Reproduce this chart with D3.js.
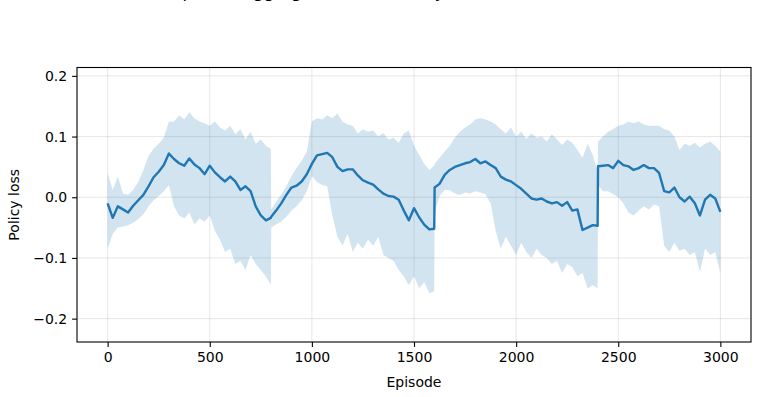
<!DOCTYPE html>
<html>
<head>
<meta charset="utf-8">
<script src="https://cdn.jsdelivr.net/npm/d3@7"></script>
<style>
  body { margin: 0; background: #fff; }
  svg text { font-family: "DejaVu Sans", sans-serif; fill: #000; }
</style>
</head>
<body>
<div class="chart-area"></div>
<script>
// episode index for each sample (extra points at the reset jumps)
const episodes = [
  0, 25, 50, 75, 100, 125, 150, 175, 200, 225, 250, 275, 300, 325, 350, 375,
  400, 425, 450, 475, 500, 525, 550, 575, 600, 625, 650, 675, 700, 725, 750, 775,
  799, 801,
  825, 850, 875, 900, 925, 950, 975, 1000, 1025, 1050, 1075, 1100, 1125, 1150, 1175, 1200,
  1225, 1250, 1275, 1300, 1325, 1350, 1375, 1400, 1425, 1450, 1475, 1500, 1525, 1550, 1575,
  1599, 1601,
  1625, 1650, 1675, 1700, 1725, 1750, 1775, 1800, 1825, 1850, 1875, 1900, 1925, 1950, 1975, 2000,
  2025, 2050, 2075, 2100, 2125, 2150, 2175, 2200, 2225, 2250, 2275, 2300, 2325, 2350, 2375,
  2399, 2401,
  2425, 2450, 2475, 2500, 2525, 2550, 2575, 2600, 2625, 2650, 2675, 2700, 2725, 2750, 2775, 2800,
  2825, 2850, 2875, 2900, 2925, 2950, 2975, 3000
];

const meanLoss = [
  -0.010, -0.034, -0.015, -0.020, -0.025, -0.014, -0.005, 0.004, 0.018, 0.033, 0.042, 0.053, 0.072, 0.063, 0.056, 0.052,
  0.064, 0.054, 0.048, 0.038, 0.052, 0.041, 0.033, 0.026, 0.034, 0.026, 0.012, 0.018, 0.010, -0.015, -0.030, -0.038,
  -0.034, -0.032,
  -0.022, -0.010, 0.004, 0.016, 0.019, 0.026, 0.038, 0.055, 0.069, 0.071, 0.073, 0.066, 0.050, 0.043, 0.046, 0.046,
  0.036, 0.028, 0.024, 0.021, 0.013, 0.006, 0.002, 0.001, -0.004, -0.022, -0.038, -0.018, -0.033, -0.045, -0.053,
  -0.052, 0.016,
  0.022, 0.037, 0.045, 0.050, 0.053, 0.056, 0.058, 0.063, 0.056, 0.059, 0.053, 0.048, 0.034, 0.029, 0.026, 0.020,
  0.014, 0.006, -0.002, -0.004, -0.002, -0.007, -0.010, -0.008, -0.014, -0.008, -0.022, -0.020, -0.054, -0.050, -0.046,
  -0.047, 0.051,
  0.052, 0.053, 0.048, 0.060, 0.053, 0.051, 0.045, 0.048, 0.053, 0.048, 0.048, 0.040, 0.010, 0.008, 0.016, 0.000,
  -0.007, 0.001, -0.010, -0.030, -0.004, 0.004, -0.002, -0.024
];

const upperLoss = [
  0.040, 0.012, 0.034, 0.006, 0.004, 0.012, 0.025, 0.045, 0.068, 0.080, 0.088, 0.098, 0.125, 0.125, 0.135, 0.128,
  0.140, 0.130, 0.125, 0.122, 0.118, 0.125, 0.115, 0.110, 0.118, 0.104, 0.112, 0.095, 0.108, 0.088, 0.095, 0.085,
  0.080, -0.020,
  -0.008, 0.005, 0.018, 0.035, 0.048, 0.060, 0.075, 0.125, 0.130, 0.128, 0.135, 0.130, 0.138, 0.125, 0.120, 0.118,
  0.105, 0.112, 0.108, 0.110, 0.100, 0.106, 0.095, 0.098, 0.090, 0.105, 0.110, 0.085, 0.070, 0.055, 0.045,
  0.052, 0.055,
  0.065, 0.075, 0.085, 0.098, 0.108, 0.115, 0.120, 0.128, 0.130, 0.128, 0.125, 0.120, 0.112, 0.105, 0.115, 0.100,
  0.108, 0.096, 0.105, 0.098, 0.100, 0.092, 0.104, 0.095, 0.086, 0.095, 0.090, 0.078, 0.065, 0.088, 0.070,
  0.042, 0.092,
  0.100, 0.108, 0.112, 0.118, 0.120, 0.125, 0.122, 0.125, 0.120, 0.118, 0.118, 0.118, 0.112, 0.110, 0.100, 0.078,
  0.088, 0.085, 0.090, 0.082, 0.088, 0.092, 0.085, 0.075
];

const lowerLoss = [
  -0.085, -0.060, -0.050, -0.048, -0.046, -0.042, -0.036, -0.028, -0.015, -0.005, 0.002, 0.010, 0.020, -0.015, -0.030, -0.035,
  -0.025, -0.045, -0.035, -0.040, -0.030, -0.055, -0.070, -0.090, -0.085, -0.110, -0.105, -0.120, -0.095, -0.110, -0.120, -0.130,
  -0.145, -0.050,
  -0.045, -0.040, -0.032, -0.022, -0.015, -0.005, 0.010, 0.035, 0.025, 0.020, 0.018, -0.030, -0.065, -0.080, -0.060, -0.090,
  -0.075, -0.085, -0.070, -0.080, -0.065, -0.095, -0.100, -0.105, -0.120, -0.130, -0.145, -0.130, -0.150, -0.140, -0.158,
  -0.155, -0.025,
  0.002, 0.012, 0.012, 0.006, 0.004, 0.008, 0.006, 0.010, 0.008, 0.005, -0.010, -0.055, -0.085, -0.065, -0.080, -0.095,
  -0.075, -0.090, -0.100, -0.085, -0.095, -0.100, -0.110, -0.105, -0.125, -0.110, -0.115, -0.130, -0.125, -0.150, -0.145,
  -0.150, 0.020,
  0.010, 0.010, 0.005, 0.000, -0.010, -0.025, -0.030, -0.022, -0.015, -0.020, -0.012, -0.015, -0.080, -0.090, -0.075, -0.088,
  -0.085, -0.095, -0.090, -0.123, -0.085, -0.095, -0.090, -0.125
];

const xTicks = [0, 500, 1000, 1500, 2000, 2500, 3000];
const yTicks = [-0.2, -0.1, 0.0, 0.1, 0.2];

const titleText = "Episode aggregated statistics by environment seed";

let width = 759;
let height = 397;
let margin = {top: 67.5, right: 8, bottom: 55, left: 77};

let data = episodes.map((e, i) => ({ep: e, mean: meanLoss[i], hi: upperLoss[i], lo: lowerLoss[i]}));

let svg = d3.select("div.chart-area").append("svg")
  .attr("width", width)
  .attr("height", height);

let x = d3.scaleLinear().domain([-150, 3150]).range([margin.left, width - margin.right]);
let y = d3.scaleLinear().domain([-0.2385, 0.2138]).range([height - margin.bottom, margin.top]);

// grid
let grid = svg.append("g").attr("class", "grid");
grid.selectAll("line.gx").data(xTicks).enter().append("line")
  .attr("x1", d => x(d)).attr("x2", d => x(d))
  .attr("y1", margin.top).attr("y2", height - margin.bottom)
  .attr("stroke", "#b0b0b0").attr("stroke-opacity", 0.3).attr("stroke-width", 1);
grid.selectAll("line.gy").data(yTicks).enter().append("line")
  .attr("x1", margin.left).attr("x2", width - margin.right)
  .attr("y1", d => y(d)).attr("y2", d => y(d))
  .attr("stroke", "#b0b0b0").attr("stroke-opacity", 0.3).attr("stroke-width", 1);

// band + mean line
let area = d3.area().x(d => x(d.ep)).y0(d => y(d.lo)).y1(d => y(d.hi));
svg.append("path").datum(data)
  .attr("d", area)
  .attr("fill", "#1f77b4")
  .attr("fill-opacity", 0.2);

let line = d3.line().x(d => x(d.ep)).y(d => y(d.mean));
svg.append("path").datum(data)
  .attr("d", line)
  .attr("fill", "none")
  .attr("stroke", "#1f77b4")
  .attr("stroke-width", 2.4)
  .attr("stroke-linejoin", "round");

// axes
let xAxis = svg.append("g")
  .attr("transform", "translate(0," + (height - margin.bottom) + ")")
  .call(d3.axisBottom(x).tickValues(xTicks).tickFormat(d3.format("d")).tickSize(4.9).tickPadding(4.9));
let yAxis = svg.append("g")
  .attr("transform", "translate(" + margin.left + ",0)")
  .call(d3.axisLeft(y).tickValues(yTicks).tickFormat(d3.format(".1f")).tickSize(4.9).tickPadding(4.9));
[xAxis, yAxis].forEach(a => {
  a.select(".domain").remove();
  a.selectAll("line").attr("stroke", "#000").attr("stroke-width", 1.1);
  a.selectAll("text").attr("font-size", 14).attr("font-family", "DejaVu Sans");
});

// frame
svg.append("rect")
  .attr("x", margin.left).attr("y", margin.top)
  .attr("width", width - margin.right - margin.left)
  .attr("height", height - margin.bottom - margin.top)
  .attr("fill", "none").attr("stroke", "#000").attr("stroke-width", 1.1);

// labels
svg.append("text")
  .attr("x", (margin.left + width - margin.right) / 2)
  .attr("y", 387)
  .attr("text-anchor", "middle")
  .attr("font-size", 14)
  .text("Episode");

svg.append("text")
  .attr("transform", "translate(19," + ((margin.top + height - margin.bottom) / 2) + ") rotate(-90)")
  .attr("text-anchor", "middle")
  .attr("font-size", 14)
  .text("Policy loss");

// title sits mostly above the visible area, as in the source figure
svg.append("text")
  .attr("x", 172)
  .attr("y", -2)
  .attr("font-size", 16.7)
  .text(titleText);
</script>
</body>
</html>
